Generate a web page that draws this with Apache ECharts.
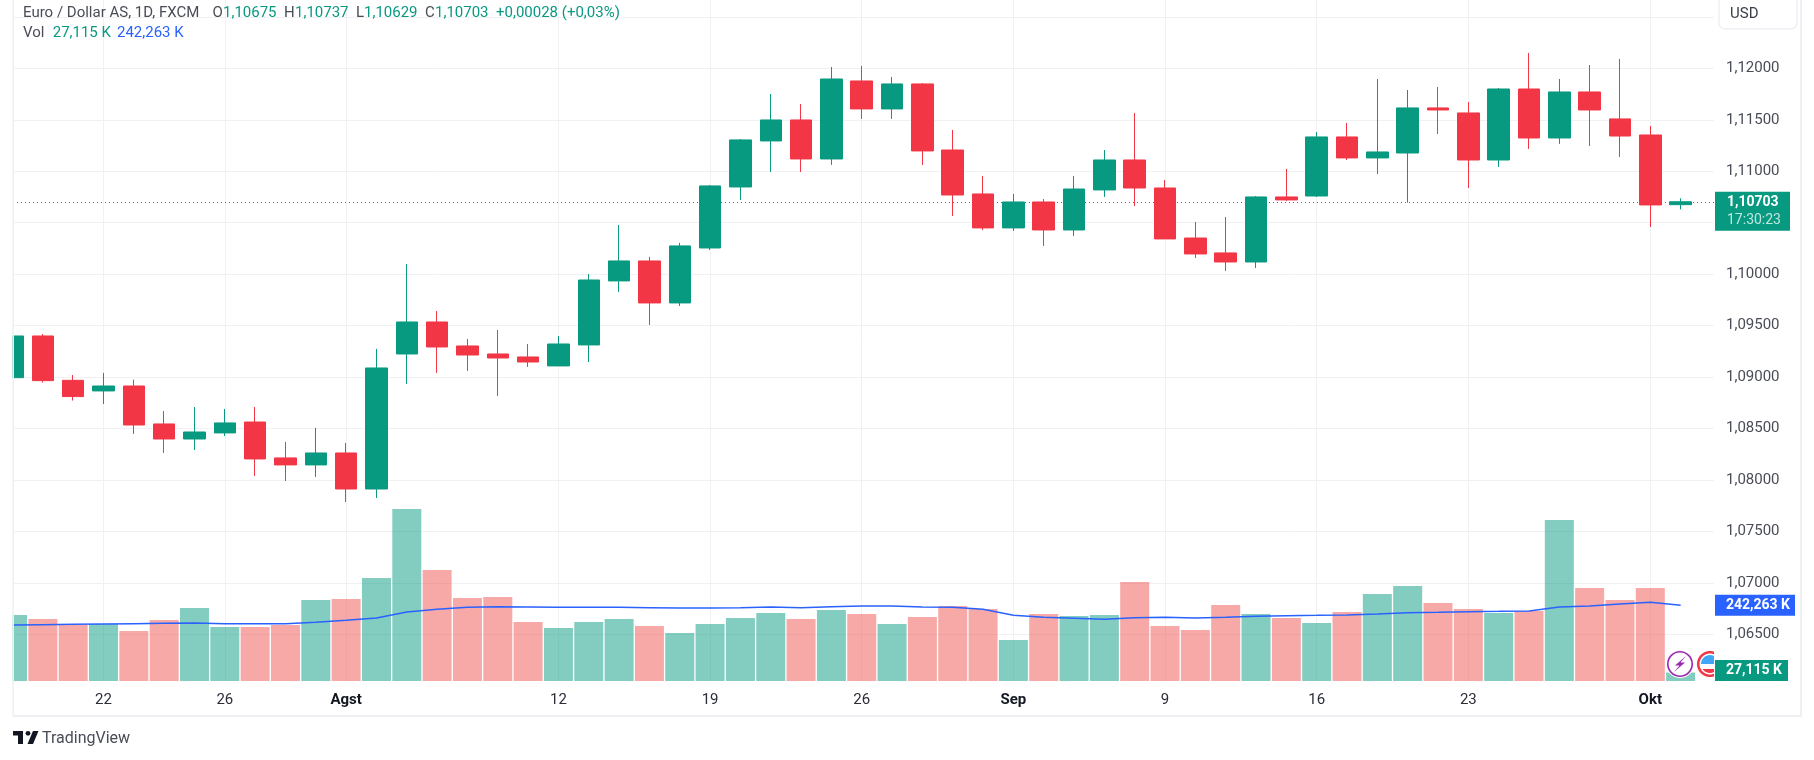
<!DOCTYPE html>
<html>
<head>
<meta charset="utf-8">
<script src="https://cdn.jsdelivr.net/npm/echarts@6/dist/echarts.min.js"></script>
<style>html,body{margin:0;padding:0;background:#fff}#c{width:1814px;height:760px}</style>
</head>
<body>
<div id="c"></div>
<script>
const opens  = [1.08994,1.09399,1.08968,1.08865,1.08913,1.08544,1.08398,1.08457,1.08563,1.08214,1.08146,1.08262,1.07912,1.09224,1.09535,1.09302,1.09224,1.09195,1.09108,1.09312,1.09934,1.10128,1.09720,1.10254,1.10847,1.11294,1.11498,1.11119,1.11877,1.11605,1.11848,1.11206,1.10779,1.10449,1.10701,1.10429,1.10818,1.11109,1.10837,1.10351,1.10206,1.10118,1.10750,1.10759,1.11333,1.11129,1.11177,1.11615,1.11566,1.11109,1.11799,1.11323,1.11770,1.11508,1.11352,1.10675];
const closes = [1.09399,1.08965,1.08810,1.08913,1.08534,1.08398,1.08466,1.08554,1.08204,1.08146,1.08262,1.07912,1.09088,1.09535,1.09292,1.09214,1.09185,1.09146,1.09321,1.09943,1.10128,1.09720,1.10274,1.10857,1.11304,1.11498,1.11119,1.11896,1.11605,1.11848,1.11197,1.10769,1.10449,1.10701,1.10429,1.10827,1.11109,1.10837,1.10342,1.10196,1.10118,1.10750,1.10721,1.11333,1.11129,1.11187,1.11615,1.11595,1.11109,1.11799,1.11323,1.11770,1.11595,1.11342,1.10672,1.10703];
const lows   = [1.08994,1.08946,1.08771,1.08738,1.08447,1.08262,1.08291,1.08427,1.08039,1.07990,1.08029,1.07786,1.07825,1.08933,1.09040,1.09059,1.08816,1.09098,1.09108,1.09146,1.09827,1.09506,1.09691,1.10235,1.10721,1.10993,1.10993,1.11061,1.11508,1.11508,1.11061,1.10565,1.10429,1.10419,1.10274,1.10371,1.10750,1.10662,1.10342,1.10157,1.10031,1.10060,1.10711,1.10750,1.11109,1.10973,1.10695,1.11362,1.10837,1.11041,1.11216,1.11265,1.11245,1.11138,1.10458,1.10629];
const highs  = [1.09399,1.09418,1.09020,1.09040,1.08975,1.08670,1.08709,1.08690,1.08709,1.08369,1.08505,1.08359,1.09273,1.10099,1.09642,1.09370,1.09457,1.09321,1.09399,1.10002,1.10478,1.10167,1.10303,1.10866,1.11313,1.11751,1.11653,1.12013,1.12023,1.11916,1.11857,1.11401,1.10954,1.10779,1.10730,1.10954,1.11206,1.11566,1.10915,1.10507,1.10555,1.10759,1.11022,1.11381,1.11469,1.11896,1.11789,1.11819,1.11673,1.11809,1.12149,1.11896,1.12032,1.12091,1.11440,1.10737];
const volumes = [211.2,198.4,179.2,182.4,160,195.2,233.6,172.8,172.8,179.2,259.2,262.4,329.6,550.4,355.2,265.6,268.8,188.8,169.6,188.8,198.4,176,153.6,182.4,201.6,217.6,198.4,227.2,214.4,182.4,204.8,240,230.4,131.2,214.4,208,211.2,316.8,176,163.2,243.2,214.4,201.6,185.6,220.8,278.4,304,249.6,230.4,217.6,224,515.2,297.6,259.2,297.6,27.115];
const volumeMA = [179.2,180.3,181.3,182.4,183.5,184.5,185.6,183.5,183.5,183.5,187.7,194.1,201.6,220.8,229.3,235.7,237.9,236.8,235.7,235.7,235.7,234.7,233.6,233.6,234.7,236.8,234.7,237.9,240,240,236.8,235.7,229.3,210.1,203.7,200.5,197.3,202.7,203.7,201.6,203.7,206.9,209.1,210.1,211.2,214.4,218.7,219.7,221.9,222.9,224,236.8,240,246.4,251.7,242.263];
const dateTickIndex = [3,7,11,18,23,28,33,38,43,48,54];
const dateTickLabel = ['22','26','Agst','12','19','26','Sep','9','16','23','Okt'];
const monthLabels = ['Agst','Sep','Okt'];
const priceTicks = [1.065,1.07,1.075,1.08,1.085,1.09,1.095,1.10,1.105,1.11,1.115,1.12];
const priceGrid  = [1.065,1.07,1.075,1.08,1.085,1.09,1.095,1.10,1.105,1.11,1.115,1.12,1.125];
const lastPrice = 1.10703, lastVolume = 27.115, lastMA = 242.263;

const UP='#089981', DOWN='#f23645', UPV='rgba(8,153,129,0.5)', DOWNV='rgba(239,83,80,0.5)';
const BLUE='#2962ff', TXT='#4a4d57', FRAME='#eef0f4', GRID='#f1f1f3';
const FONT='Roboto, sans-serif';
const comma = v => v.toFixed(5).replace('.',',');

const txt=(x,y,text,fill,extra)=>({type:'text',x,y,z:50,silent:true,style:Object.assign({text,fill,font:'15px '+FONT,textVerticalAlign:'middle',verticalAlign:'middle'},extra||{})});
const legend=[
  txt(23,13,'Euro / Dollar AS, 1D, FXCM',TXT),
  txt(212.5,13,'O',TXT), txt(223,13,'1,10675',UP),
  txt(284,13,'H',TXT), txt(295,13,'1,10737',UP),
  txt(356,13,'L',TXT), txt(364,13,'1,10629',UP),
  txt(425,13,'C',TXT), txt(435,13,'1,10703',UP),
  txt(496,13,'+0,00028 (+0,03%)',UP),
  txt(23,33.5,'Vol',TXT), txt(52.7,33.5,'27,115 K',UP), txt(117,33.5,'242,263 K',BLUE)
];
const disc=(cx,cy,r,xMax,yMin,yMax)=>{const p=[];for(let a=0;a<64;a++){const t=a/64*2*Math.PI;p.push([Math.min(cx+r*Math.cos(t),xMax),Math.min(Math.max(cy+r*Math.sin(t),yMin),yMax)]);}return p;};
const frame=[
  {type:'rect',z:39,silent:true,shape:{x:0,y:0,width:12.5,height:720},style:{fill:'#fff'}},
  {type:'rect',z:40,silent:true,shape:{x:12.5,y:0,width:1.5,height:717},style:{fill:FRAME}},
  {type:'rect',z:40,silent:true,shape:{x:12.5,y:715,width:1789.5,height:2},style:{fill:FRAME}},
  {type:'rect',z:40,silent:true,shape:{x:1800,y:0,width:2,height:717},style:{fill:FRAME}},
  {type:'rect',z:45,silent:true,shape:{x:1719,y:-6,width:78,height:35,r:6},style:{fill:'#fff',stroke:FRAME,lineWidth:1.5}},
  txt(1730,14,'USD','#3a3d47'),
  {type:'rect',z:50,silent:true,shape:{x:13,y:731,width:10,height:4.5},style:{fill:'#131722'}},
  {type:'rect',z:50,silent:true,shape:{x:18,y:731,width:5,height:13},style:{fill:'#131722'}},
  {type:'circle',z:50,silent:true,shape:{cx:28,cy:733.3,r:2.4},style:{fill:'#131722'}},
  {type:'polygon',z:50,silent:true,shape:{points:[[33,731],[38.5,731],[33,744],[27.5,744]]},style:{fill:'#131722'}},
  txt(42,739,'TradingView','#4a4d57',{font:'16px '+FONT})
];
const icons=[
  {type:'circle',z:30,silent:true,shape:{cx:1680,cy:664,r:14},style:{fill:'#fff'}},
  {type:'circle',z:31,silent:true,shape:{cx:1680,cy:664,r:12.2},style:{fill:'#fff',stroke:'#9c27b0',lineWidth:1.6}},
  {type:'polygon',z:32,silent:true,shape:{points:[[1686,656],[1675,665.5],[1679.5,665.5],[1674,672],[1685,662.5],[1680.5,662.5]]},style:{fill:'#9c27b0'}},
  {type:'polygon',z:30,silent:true,shape:{points:disc(1710,664,14,1714,640,690)},style:{fill:'#fff'}},
  {type:'polygon',z:31,silent:true,shape:{points:disc(1710,664,13,1714,640,690)},style:{fill:'#f23645'}},
  {type:'polygon',z:32,silent:true,shape:{points:disc(1710,664,10.5,1714,640,690)},style:{fill:'#fff'}},
  {type:'polygon',z:33,silent:true,shape:{points:disc(1710,664,9,1714,640,664)},style:{fill:'#42a5f5'}},
  {type:'polygon',z:33,silent:true,shape:{points:disc(1710,664,9,1714,669,690)},style:{fill:'#f23645'}}
];

const chart=echarts.init(document.getElementById('c'),null,{renderer:'canvas'});
chart.setOption({
  animation:false,
  backgroundColor:'#fff',
  grid:{left:13,top:0,width:1701,height:681,containLabel:false},
  xAxis:{type:'value',min:0.016,max:56.1,
    axisLine:{show:false},
    axisTick:{show:false,customValues:dateTickIndex},
    axisLabel:{customValues:dateTickIndex,margin:12,fontFamily:FONT,fontSize:15,color:'#2b2e38',hideOverlap:false,
      formatter:v=>{const s=dateTickLabel[dateTickIndex.indexOf(v)]||'';return monthLabels.includes(s)?'{m|'+s+'}':s;},
      rich:{m:{fontFamily:FONT,fontSize:15,fontWeight:'bold',color:'#131722'}}},
    splitLine:{show:true,lineStyle:{color:GRID,width:1}}},
  yAxis:[
    {type:'value',position:'right',scale:true,min:1.060463,max:1.126637,
      axisLine:{show:false},
      axisTick:{show:false,customValues:priceGrid},
      axisLabel:{customValues:priceTicks,margin:12,padding:[0,0,3,0],fontFamily:FONT,fontSize:15,color:TXT,formatter:comma},
      splitLine:{show:true,lineStyle:{color:GRID,width:1}}},
    {type:'value',show:false,min:0,max:2179.2,splitLine:{show:false}}
  ],
  series:[
    {type:'bar',name:'Vol',yAxisIndex:1,barWidth:29,z:2,
      data:volumes.map((v,i)=>({value:[i,v],itemStyle:{color:closes[i]>=opens[i]?UPV:DOWNV}}))},
    {type:'line',name:'Vol MA',yAxisIndex:1,z:3,showSymbol:false,symbol:'none',lineStyle:{color:BLUE,width:1.5},
      data:volumeMA.map((v,i)=>[i,v])},
    {type:'candlestick',name:'EURUSD',z:4,barWidth:22,
      itemStyle:{color:UP,color0:DOWN,borderColor:UP,borderColor0:DOWN,borderWidth:1},
      data:opens.map((o,i)=>[i,o,closes[i],lows[i],highs[i]]),
      markLine:{silent:true,symbol:'none',precision:5,label:{show:false},animation:false,
        lineStyle:{color:UP,type:[1,3],width:1,opacity:1},
        data:[{yAxis:lastPrice}]}}
  ]
});
const yP=chart.convertToPixel({yAxisIndex:0},lastPrice);
const yM=chart.convertToPixel({yAxisIndex:1},lastMA);
const yBase=chart.convertToPixel({yAxisIndex:1},0);
const yV=Math.min(chart.convertToPixel({yAxisIndex:1},lastVolume)-10.5,yBase-21);
chart.setOption({graphic:{elements:legend.concat(frame,icons,[
  {type:'rect',z:60,silent:true,shape:{x:1715,y:yP-10,width:75,height:39},style:{fill:UP}},
  Object.assign(txt(1727,yP+0.5,comma(lastPrice),'#fff',{font:'bold 14px '+FONT}),{z:61}),
  Object.assign(txt(1727,yP+18.5,'17:30:23','#bfe6de',{font:'14px '+FONT}),{z:61}),
  {type:'rect',z:60,silent:true,shape:{x:1715,y:yM-10.5,width:80,height:21},style:{fill:BLUE}},
  Object.assign(txt(1726,yM,'242,263 K','#fff',{font:'bold 14px '+FONT}),{z:61}),
  {type:'rect',z:60,silent:true,shape:{x:1715,y:yV,width:73,height:21},style:{fill:UP}},
  Object.assign(txt(1726,yV+10.5,'27,115 K','#fff',{font:'bold 14px '+FONT}),{z:61})
])}});
</script>
</body>
</html>
